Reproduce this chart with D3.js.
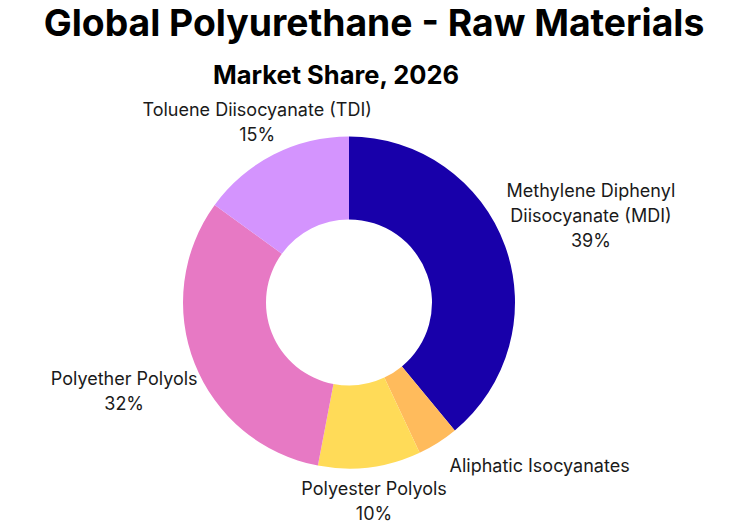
<!DOCTYPE html>
<html>
<head>
<meta charset="utf-8">
<script src="https://cdn.jsdelivr.net/npm/d3@7"></script>
<style>
  html, body { margin: 0; padding: 0; background: #fff; }
  svg { display: block; font-family: Inter, "Noto Sans", sans-serif; }
</style>
</head>
<body>
<svg id="chart" width="754" height="529"></svg>
<script>
// ---- data ----
const categories = [
  "Methylene Diphenyl\nDiisocyanate (MDI)",
  "Aliphatic Isocyanates",
  "Polyester Polyols",
  "Polyether Polyols",
  "Toluene Diisocyanate (TDI)"
];
const shares = [39, 4, 10, 32, 15];
const colors = ["#1800aa", "#ffbb5c", "#ffdb58", "#e779c4", "#d494fe"];
const title = "Global Polyurethane - Raw Materials";
const subtitle = "Market Share, 2026";

// ---- layout ----
const W = 754, H = 529;
const cx = 349, cy = 302.5, R = 166, r0 = 83;
const fontSize = 18, lineH = 25;

const svg = d3.select("#chart");

svg.append("text")
  .attr("x", 374).attr("y", 36)
  .attr("text-anchor", "middle")
  .attr("font-size", 37.3).attr("font-weight", 700)
  .attr("fill", "#000")
  .text(title);

svg.append("text")
  .attr("x", 336).attr("y", 84)
  .attr("text-anchor", "middle")
  .attr("font-size", 25.5).attr("font-weight", 700)
  .attr("fill", "#000")
  .text(subtitle);

const data = categories.map((c, i) => ({ name: c, value: shares[i], color: colors[i] }));
const total = d3.sum(shares);

const pie = d3.pie().value(d => d.value).sort(null).startAngle(0).endAngle(2 * Math.PI);
const arcs = pie(data);
const arc = d3.arc().innerRadius(r0).outerRadius(R);

const g = svg.append("g").attr("transform", `translate(${cx},${cy})`);

g.selectAll("path.slice")
  .data(arcs)
  .join("path")
  .attr("class", "slice")
  .attr("d", arc)
  .attr("fill", d => d.data.color);

// ---- labels ----
const lg = g.append("g");
const labels = arcs.map(a => {
  const pct = Math.round(a.data.value / total * 100);
  const lines = a.data.name.split("\n");
  if (pct >= 5) lines.push(pct + "%");
  const mid = (a.startAngle + a.endAngle) / 2;
  return { a, lines, mid, s: Math.sin(mid), c: -Math.cos(mid) };
});

// render, measure, then position outside the ring
labels.forEach(L => {
  const t = lg.append("text")
    .attr("text-anchor", "middle")
    .attr("font-size", fontSize)
    .attr("fill", "#1a1a1a");
  L.lines.forEach((ln, i) => {
    t.append("tspan").attr("x", 0).attr("dy", i === 0 ? 0 : lineH).text(ln);
  });
  L.node = t;
  let maxW = 0;
  t.selectAll("tspan").each(function () { maxW = Math.max(maxW, this.getComputedTextLength()); });
  L.hw = maxW / 2;
  L.hh = L.lines.length * lineH / 2;
  const d = R + 9 + L.hh * Math.abs(L.c) + L.hw * Math.pow(L.s, 4) * 1.05;
  L.x = L.s * d;
  L.y = L.c * d;
});

// resolve overlaps: bigger slices placed first, smaller ones slide sideways
const order = labels.slice().sort((p, q) => q.a.data.value - p.a.data.value);
const placed = [];
const pad = 2;
const overlaps = (A, B) =>
  Math.abs(A.x - B.x) < A.hw + B.hw + pad && Math.abs(A.y - B.y) < A.hh + B.hh;
order.forEach(L => {
  const dir = L.s >= 0 ? 1 : -1;
  let guard = 0;
  while (placed.some(P => overlaps(L, P)) && guard++ < 400) L.x += dir;
  placed.push(L);
});

labels.forEach(L => {
  const y0 = L.y - (L.lines.length - 1) * lineH / 2 + fontSize * 0.36;
  L.node.attr("transform", `translate(${L.x},${y0})`);
});
</script>
</body>
</html>
